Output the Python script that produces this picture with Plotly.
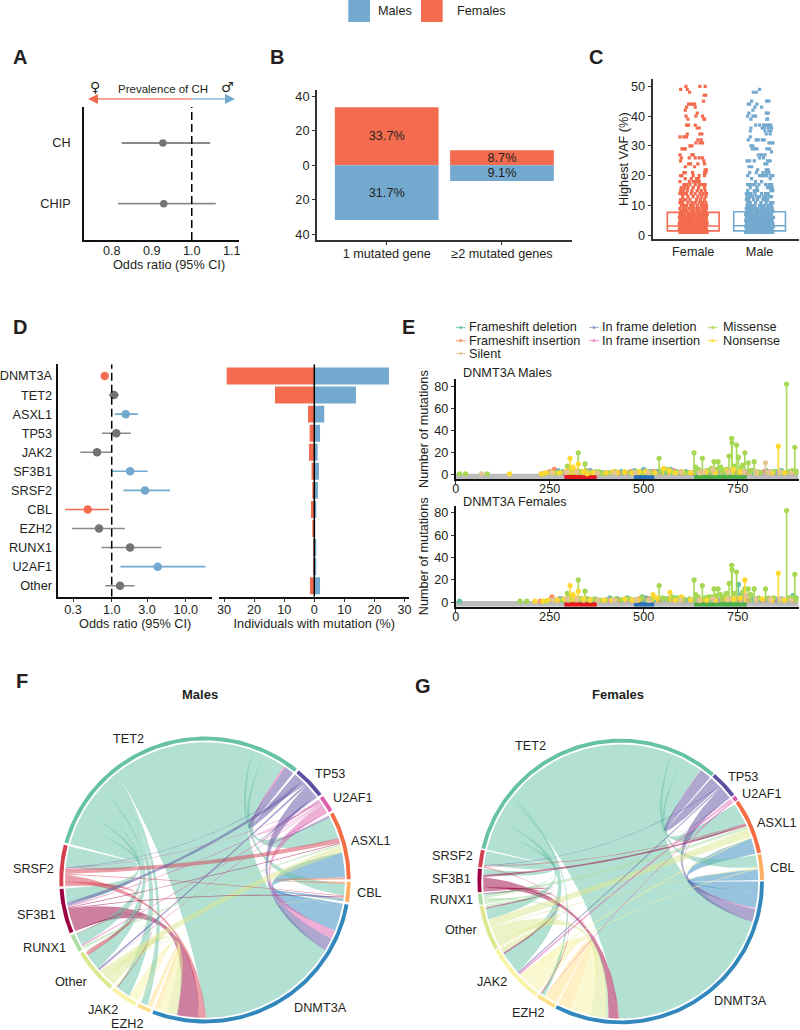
import math
import plotly.graph_objects as go

FONT = "Liberation Sans"
INK = "#231F20"
SALMON = "#F36C4F"
BLUE = "#73A9CF"
GRAY_DOT = "#737373"
GRAY_LINE = "#8A8A8A"
TXT = 12.7

# ---------- Panel A
a_labels = ["CH", "CHIP"]
a_or = [0.928, 0.930]
a_lo = [0.825, 0.816]
a_hi = [1.046, 1.060]

# ---------- Panel B
b_cats = ["1 mutated gene", "\u22652 mutated genes"]
b_female = [33.7, 8.7]
b_male = [31.7, 9.1]

# ---------- Panel C
c_female_vaf = [50, 49, 48, 47, 45, 44, 43, 42, 41, 40, 39, 37, 36, 34, 33, 32, 31, 30, 29, 27, 26, 25, 24, 23, 22, 21, 20,
                19, 18, 17, 16, 15, 14, 13, 12, 11, 10, 9, 8, 7, 6, 5, 4, 3, 2, 1]
c_female_jit = [
    [-.11, .10, .18], [-.19, -.09], [-.055], [.165, .19], [.155], [-.07, -.04, -.01, .02], [-.10, .03], [-.12], [.06],
    [-.11, .04, .14], [.16, -.08, .17], [-.10, -.07, .03], [.06, .09], [-.09, .10, .13], [-.20, -.14, -.10],
    [.07, .12], [.04, .10, .14], [-.05, -.02], [-.17, -.14, -.12], [-.20, -.02, .00], [-.18, -.06, .03, .09, .14],
    [-.19, .16], [-.07, -.04, .07, .17], [-.12, .02], [.18, .20], [-.14, -.12, -.01, .17, .19],
    [-.19, -.17, .00, .09, .17], [-.12, -.03, .05, .08], [-.20, -.06, .00, .02, .05, .09],
    [-.14, -.10, -.05, .03, .09, .12, .14, .16, .18], [-.18, -.13, -.08, .00, .08, .17],
    [-.19, -.15, -.09, -.02, .06, .12, .18], [-.20, -.17, -.13, -.10, -.03, .03, .10, .15, .20],
    [-.16, -.08, .00, .07, .13, .19], [-.19, -.14, -.11, -.05, .05, .11, .17],
    [-.20, -.16, -.08, -.02, .03, .09, .14, .19], [-.18, -.13, -.10, -.04, .00, .06, .12, .16, .20],
    [-.20, -.15, -.11, -.06, -.01, .04, .08, .13, .17, .20], [-.19, -.16, -.12, -.09, -.03, .01, .06, .10, .15, .19],
    [-.20, -.17, -.13, -.08, -.05, -.01, .03, .07, .11, .14, .18, .21],
    [-.21, -.18, -.15, -.11, -.07, -.03, .00, .05, .09, .12, .16, .20],
    [-.20, -.17, -.14, -.10, -.06, -.02, .02, .06, .10, .13, .17, .20, -.04, .15],
    [-.21, -.18, -.15, -.12, -.08, -.05, -.01, .03, .07, .11, .14, .18, .21],
    [-.20, -.17, -.13, -.10, -.07, -.03, .01, .05, .08, .12, .16, .19, -.15, .03],
    [-.21, -.18, -.15, -.11, -.08, -.04, -.01, .03, .06, .10, .13, .17, .20, -.06],
    [-.20, -.17, -.14, -.11, -.07, -.04, .00, .04, .07, .11, .14, .18, .21, .02],
]
c_male_vaf = [49, 48, 45, 44, 43, 42, 41, 40, 39, 37, 36, 35, 34, 33, 32, 31, 30, 29, 28, 27, 26, 25, 24, 23, 22, 21, 20,
              19, 18, 17, 16, 15, 14, 13, 12, 11, 10, 9, 8, 7, 6, 5, 4, 3, 2, 1]
c_male_jit = [
    [.00], [-.05, -.095], [-.12, .105, .14], [-.17, -.15, -.04], [-.07, .03], [-.10], [.10, .13, -.16],
    [-.18, -.10, -.06], [-.13, .11, .12], [-.06, .00, .06, .09, .12, .15, .17], [-.13, .04, .07, .13, .18],
    [.08, .14, .17, -.14], [.10, .16], [-.14], [-.17, -.05, -.02, .04, .07], [.14, .17, .20], [-.13, -.10],
    [-.11, -.07, -.04, .11, .15], [.18], [-.02, .03, .08], [.00, .06], [-.19, -.15, -.08, .12, .16], [.08, .11],
    [-.16, -.12], [.10, .13, -.03], [-.15, -.05, .05, .10, .14], [-.18, .00, .04, .07, .11, .17, .20], [-.12, .16],
    [-.06, .03], [-.18, -.15, -.11, -.07, -.01, .09, .14, .18], [-.14, -.04, .12, .16, .19],
    [-.18, -.08, -.03, .17, .20], [-.20, -.17, -.13, -.07, .03, .09, .13],
    [-.19, -.15, -.11, -.05, .00, .06, .10, .15, .18], [-.20, -.16, -.09, -.03, .05, .08, .12],
    [-.18, -.14, -.06, .02, .10, .16, .20], [-.19, -.15, -.11, -.07, .00, .04, .08, .13, .18],
    [-.20, -.16, -.12, -.08, -.03, .02, .06, .11, .15, .19], [-.19, -.17, -.13, -.10, -.05, .00, .04, .09, .12, .17, .20],
    [-.21, -.18, -.14, -.11, -.06, -.02, .03, .07, .10, .14, .18],
    [-.20, -.16, -.13, -.09, -.05, -.01, .02, .06, .10, .13, .17, .21],
    [-.21, -.18, -.15, -.12, -.08, -.04, .00, .04, .08, .11, .15, .19, -.02],
    [-.20, -.17, -.13, -.10, -.06, -.02, .01, .05, .09, .12, .16, .20, .03],
    [-.21, -.18, -.15, -.11, -.07, -.04, .00, .03, .07, .11, .14, .18, .21, -.13],
    [-.20, -.17, -.14, -.10, -.07, -.03, .01, .04, .08, .12, .15, .19, -.01, .06],
    [-.21, -.18, -.15, -.12, -.08, -.05, -.01, .02, .06, .09, .13, .17, .20, .04],
]
c_box_q1 = [1.5, 1.5]
c_box_med = [3.1, 3.2]
c_box_q3 = [7.7, 7.9]

# ---------- Panel D
d_genes = ["DNMT3A", "TET2", "ASXL1", "TP53", "JAK2", "SF3B1", "SRSF2", "CBL", "EZH2", "RUNX1", "U2AF1", "Other"]
d_or = [0.804, 1.074, 1.546, 1.155, 0.633, 1.77, 2.82, 0.474, 0.674, 1.77, 4.18, 1.295]
d_lo = [0.75, 0.91, 1.10, 0.74, 0.376, 1.01, 1.44, 0.234, 0.29, 0.73, 1.31, 0.82]
d_hi = [0.87, 1.25, 2.25, 1.81, 1.00, 3.06, 6.14, 0.92, 1.51, 4.68, 18.5, 2.04]
d_sig = ["F", "N", "M", "N", "N", "M", "M", "F", "N", "N", "M", "N"]
d_female_pct = [29.1, 13.07, 2.1, 1.55, 1.77, 0.9, 0.5, 1.1, 0.66, 0.25, 0.2, 1.45]
d_male_pct = [24.8, 13.84, 3.3, 1.9, 1.1, 1.55, 1.2, 0.45, 0.15, 0.4, 0.4, 1.9]

# ---------- Panel E
e_types = ["Frameshift deletion", "Frameshift insertion", "In frame deletion", "In frame insertion", "Missense", "Nonsense", "Silent"]
e_colors = ["#66C2A5", "#FC8D62", "#8DA0CB", "#E78AC3", "#A6D854", "#FFD92F", "#E5C494"]
domain_start = [289, 474, 634]
domain_end = [375, 528, 774]
domain_colors = ["#E41A1C", "#2B73B5", "#4DAF4A"]
protein_length = 912

m_fsdel_pos = [246, 264, 272, 285, 336, 358, 372, 392, 412, 440, 458, 476, 492, 500, 516, 534, 556, 572, 594, 612, 642, 668, 700, 716, 744, 772, 790, 815, 826, 838, 852, 866, 890, 905]
m_fsdel_n = [2, 3, 4, 3, 2, 4, 2, 2, 2, 3, 2, 4, 3, 5, 3, 3, 3, 5, 2, 3, 3, 4, 2, 3, 2, 3, 4, 2, 4, 3, 3, 4, 2, 3]
m_fsins_pos = [228, 250, 262, 282, 314, 346, 380, 402, 434, 466, 484, 508, 526, 544, 566, 580, 600, 630, 652, 676, 710, 732, 750, 775, 806, 820, 848, 872, 898]
m_fsins_n = [1, 3, 5, 2, 4, 4, 2, 2, 2, 3, 2, 3, 3, 2, 4, 4, 2, 2, 3, 2, 4, 3, 2, 2, 2, 3, 2, 2, 2]
m_ifdel_pos = [270, 290, 330, 356, 398, 445, 474, 502, 540, 586, 640, 682, 730, 766, 810, 856, 884]
m_ifdel_n = [3, 3, 3, 4, 2, 2, 3, 4, 3, 3, 3, 2, 4, 2, 2, 2, 2]
m_ifins_pos = [288, 342, 408, 456, 520, 578, 622, 696, 760, 822, 878]
m_ifins_n = [2, 2, 2, 2, 2, 4, 2, 3, 2, 2, 2]
m_mis_pos = [10, 26, 84, 235, 252, 268, 280, 297, 301, 306, 318, 326, 333, 344, 352, 362, 372, 382, 392, 410, 425, 447, 463, 480, 496, 510, 522, 541, 548, 562, 575, 590, 606, 618, 634, 638, 645, 656, 662, 672, 680, 687, 693, 698, 705, 712, 720, 727, 734, 735, 741, 747, 752, 758, 763, 769, 778, 785, 794, 802, 812, 832, 846, 868, 880, 886, 895, 902, 908]
m_mis_n = [1, 1, 1, 1, 2, 2, 2, 8, 6, 4, 3, 20, 3, 10, 3, 2, 3, 3, 1, 2, 3, 2, 2, 3, 2, 3, 2, 15, 4, 5, 3, 3, 2, 2, 20, 7, 5, 15, 3, 4, 6, 12, 5, 12, 7, 4, 5, 17, 33, 29, 8, 27, 16, 6, 9, 20, 11, 4, 12, 3, 2, 2, 3, 2, 82, 3, 4, 25, 3]
m_non_pos = [143, 228, 240, 258, 276, 294, 304, 312, 320, 326, 340, 350, 365, 400, 418, 430, 450, 470, 488, 505, 530, 553, 568, 584, 602, 625, 650, 665, 690, 722, 738, 757, 800, 840, 858, 875]
m_non_n = [1, 1, 2, 2, 2, 4, 15, 7, 4, 10, 3, 1, 2, 2, 3, 2, 3, 2, 3, 3, 2, 6, 4, 2, 3, 2, 2, 3, 2, 4, 5, 3, 2, 2, 26, 2]
m_sil_pos = [69, 255, 296, 322, 376, 422, 478, 512, 598, 648, 658, 684, 726, 768, 798, 824, 834, 862, 892]
m_sil_n = [1, 2, 3, 3, 2, 2, 2, 2, 3, 2, 3, 5, 3, 3, 3, 11, 3, 3, 2]

f_fsdel_pos = [10, 254, 276, 286, 300, 338, 362, 380, 410, 430, 455, 478, 496, 506, 516, 530, 548, 582, 596, 612, 628, 646, 676, 716, 745, 752, 760, 788, 810, 830, 850, 866, 890, 897, 905]
f_fsdel_n = [1, 2, 3, 2, 2, 2, 2, 2, 4, 3, 4, 2, 5, 4, 3, 3, 3, 4, 3, 2, 2, 2, 2, 3, 3, 16, 7, 3, 2, 3, 3, 3, 2, 6, 4]
f_fsins_pos = [226, 256, 268, 316, 348, 376, 402, 436, 466, 488, 512, 540, 566, 604, 640, 664, 710, 748, 776, 800, 818, 848, 872, 900]
f_fsins_n = [1, 5, 2, 3, 3, 2, 2, 2, 2, 3, 3, 2, 3, 2, 2, 2, 3, 3, 2, 2, 2, 2, 2, 2]
f_ifdel_pos = [250, 282, 330, 356, 398, 444, 474, 502, 558, 586, 638, 700, 732, 766, 812, 856, 884]
f_ifdel_n = [2, 3, 3, 2, 2, 2, 2, 3, 3, 2, 3, 2, 3, 3, 2, 2, 2]
f_ifins_pos = [272, 342, 408, 456, 520, 578, 622, 696, 760, 822, 878]
f_ifins_n = [2, 2, 2, 2, 2, 2, 2, 2, 2, 2, 2]
f_mis_pos = [171, 189, 240, 262, 282, 297, 301, 306, 318, 326, 333, 344, 352, 370, 385, 400, 425, 440, 462, 476, 495, 510, 522, 541, 550, 562, 575, 590, 606, 622, 634, 638, 645, 656, 662, 672, 680, 687, 693, 698, 705, 712, 720, 727, 734, 735, 741, 747, 763, 769, 778, 785, 794, 805, 824, 832, 846, 868, 880, 886, 895, 902, 908]
f_mis_n = [1, 1, 1, 2, 2, 8, 6, 4, 3, 20, 3, 10, 3, 3, 2, 2, 3, 2, 3, 2, 4, 2, 3, 15, 4, 3, 5, 4, 3, 3, 20, 7, 5, 15, 4, 5, 5, 12, 6, 12, 7, 5, 8, 17, 33, 29, 8, 27, 9, 12, 12, 7, 12, 4, 12, 4, 4, 2, 82, 4, 4, 25, 3]
f_non_pos = [211, 232, 246, 270, 290, 304, 312, 320, 326, 340, 358, 395, 415, 450, 470, 485, 525, 535, 570, 584, 600, 625, 650, 668, 690, 722, 740, 757, 769, 815, 840, 858, 875]
f_non_n = [1, 1, 2, 2, 3, 15, 7, 4, 10, 3, 2, 2, 2, 3, 2, 2, 7, 4, 9, 2, 5, 2, 2, 2, 2, 3, 3, 4, 20, 3, 2, 26, 2]
f_sil_pos = [258, 296, 322, 378, 422, 480, 514, 598, 648, 684, 726, 772, 798, 836, 862, 892]
f_sil_n = [2, 3, 3, 2, 2, 2, 2, 2, 2, 3, 3, 6, 3, 3, 3, 2]

# ---------- Panels F and G (chord diagrams), clockwise sector order
chord_order = ["DNMT3A", "EZH2", "JAK2", "Other", "RUNX1", "SF3B1", "SRSF2", "TET2", "TP53", "U2AF1", "ASXL1", "CBL"]
chord_colors = ["#3288BD", "#FEE08B", "#F7F4A6", "#DDE78F", "#ABDDA4", "#9E0142", "#D53E4F", "#66C2A5", "#5E4FA2", "#DB5FAE", "#F46D43", "#FDAE61"]
male_from = ["TET2"] * 9 + ["TP53", "U2AF1", "DNMT3A", "DNMT3A", "U2AF1", "TP53", "SRSF2", "SF3B1", "RUNX1", "Other", "JAK2", "EZH2",
             "JAK2", "SF3B1", "Other", "Other", "Other", "U2AF1", "TP53", "SRSF2", "SF3B1", "RUNX1", "U2AF1", "RUNX1", "SRSF2",
             "TP53", "U2AF1", "SF3B1", "SF3B1", "SRSF2", "SRSF2", "U2AF1", "TP53", "TP53", "TP53", "U2AF1", "ASXL1"]
male_to = ["DNMT3A", "SRSF2", "SF3B1", "RUNX1", "Other", "JAK2", "EZH2", "ASXL1", "CBL", "TET2", "TET2", "CBL", "ASXL1", "DNMT3A",
           "DNMT3A", "DNMT3A", "DNMT3A", "DNMT3A", "DNMT3A", "DNMT3A", "DNMT3A", "EZH2", "JAK2", "JAK2", "ASXL1", "CBL", "Other",
           "Other", "Other", "Other", "Other", "RUNX1", "ASXL1", "RUNX1", "SF3B1", "SF3B1", "ASXL1", "CBL", "ASXL1", "CBL", "SRSF2",
           "SRSF2", "ASXL1", "U2AF1", "ASXL1", "CBL"]
male_val = [59, 9, 6, 5, 7, 6, 3, 9.5, 5, 4, 0.8, 1.2, 10.5, 3.7, 5.5, 3, 9, 0.3, 4, 3.5, 2,
            0.5, 0.3, 0.7, 3, 0.4, 0.3, 0.8, 1.5, 0.3, 0.4, 0.5, 0.7, 0.3, 1.5, 0.4, 0.4, 0.4, 2, 0.4,
            0.3, 0.3, 0.6, 0.4, 0.4, 0.8]
female_from = ["TET2"] * 9 + ["TP53", "U2AF1", "DNMT3A", "DNMT3A", "TP53", "SF3B1", "SRSF2", "U2AF1", "RUNX1", "Other", "JAK2", "EZH2",
               "JAK2", "Other", "TP53", "SRSF2", "SF3B1", "RUNX1", "Other", "JAK2", "TP53", "TP53", "U2AF1", "U2AF1", "SF3B1", "SF3B1", "SF3B1",
               "SF3B1", "RUNX1", "RUNX1", "Other", "EZH2"]
female_to = ["DNMT3A", "SRSF2", "SF3B1", "RUNX1", "Other", "JAK2", "EZH2", "ASXL1", "CBL", "TET2", "TET2", "CBL", "ASXL1", "DNMT3A", "DNMT3A",
             "DNMT3A", "DNMT3A", "DNMT3A", "DNMT3A", "DNMT3A", "DNMT3A", "CBL", "CBL", "ASXL1", "ASXL1", "ASXL1", "ASXL1", "ASXL1", "ASXL1",
             "JAK2", "SRSF2", "JAK2", "EZH2", "RUNX1", "Other", "JAK2", "EZH2", "Other", "JAK2", "JAK2", "JAK2"]
female_val = [73.5, 6, 2.5, 0.6, 4.5, 9.5, 1.5, 9, 5, 4.8, 0.2, 4.5, 6.7, 5.3, 4.2, 0.4, 0.6, 1, 6.5, 9, 5.5,
              0.6, 0.4, 0.3, 0.4, 0.9, 1.3, 3.5, 0.7, 0.6, 0.3, 0.8, 0.3, 0.3, 0.5, 0.7, 0.4, 1, 0.3, 2, 0.4]

male_labels = [("TET2", 128.7, 738.7), ("TP53", 330, 774.3), ("U2AF1", 353.3, 798), ("ASXL1", 370.7, 841.3), ("CBL", 369.3, 893.3),
               ("DNMT3A", 320, 1008), ("EZH2", 126.7, 1024), ("JAK2", 103.3, 1010), ("Other", 71.7, 981.7), ("RUNX1", 44.3, 948.3),
               ("SF3B1", 36, 915), ("SRSF2", 33.3, 869)]
female_labels = [("TET2", 530.7, 746), ("TP53", 742.7, 777.3), ("U2AF1", 761.7, 794), ("ASXL1", 776.7, 822.7), ("CBL", 782.3, 867.7),
                 ("DNMT3A", 740, 1000.7), ("EZH2", 527.7, 1013.3), ("JAK2", 492.3, 981.7), ("Other", 461.7, 930), ("RUNX1", 451.7, 900),
                 ("SF3B1", 451.7, 879.3), ("SRSF2", 452.7, 856)]

W, H = 800, 1030
layout = dict(
    width=W, height=H, autosize=False, margin=dict(l=0, r=0, t=0, b=0), showlegend=False,
    paper_bgcolor="white", plot_bgcolor="rgba(0,0,0,0)", hovermode=False, barmode="overlay", boxmode="overlay",
    font=dict(family=FONT, size=TXT, color=INK),
)
annotations, shapes, traces = [], [], []


def axes(n, l, r, t, b, xr, yr, xkw=None, ykw=None):
    base = dict(showgrid=False, zeroline=False, showline=True, linecolor="#111111", linewidth=1.6,
                ticks="outside", ticklen=3, tickwidth=1, tickcolor="#333333",
                tickfont=dict(family=FONT, size=TXT, color=INK), automargin=False)
    xa = dict(base, domain=[l / W, r / W], range=xr, anchor=f"y{n}")
    ya = dict(base, domain=[1 - b / H, 1 - t / H], range=yr, anchor=f"x{n}")
    xa.update(xkw or {})
    ya.update(ykw or {})
    layout[f"xaxis{n}"] = xa
    layout[f"yaxis{n}"] = ya
    return dict(xaxis=f"x{n}", yaxis=f"y{n}")


def note(text, x, y, size=TXT, bold=False, anchor="center", family=FONT, color=INK):
    if anchor == "left":
        x -= 2
    annotations.append(dict(text=f"<b>{text}</b>" if bold else text, x=x / W, y=1 - y / H, xref="paper", yref="paper",
                            showarrow=False, xanchor=anchor, yanchor="middle",
                            font=dict(size=size, family=family, color=color)))


# ---- top legend
for x0, x1, col, name, tx in [(348.3, 370, BLUE, "Males", 378), (421, 442.7, SALMON, "Females", 456.7)]:
    shapes.append(dict(type="rect", xref="paper", yref="paper", x0=x0 / W, x1=x1 / W, y0=1 - 22 / H, y1=1,
                       fillcolor=col, line=dict(width=0)))
    note(name, tx, 11, anchor="left")

# ---- panel letters
for letter, x, y in [("A", 20, 57), ("B", 277, 57), ("C", 596, 57), ("D", 20, 327), ("E", 408, 327), ("F", 22, 681), ("G", 423, 686)]:
    note(letter, x, y, size=20, bold=True)

# ---- Panel A
ax = axes(2, 84, 239, 107, 240, [0.7308, 1.118], [-0.598, 1.593],
          dict(tickvals=[0.8, 0.9, 1.0, 1.1], ticktext=["0.8", "0.9", "1.0", "1.1"], ticks="", ticklabelstandoff=-2),
          dict(tickvals=[1, 0], ticktext=a_labels, ticks="", ticklabelstandoff=9))
traces.append(go.Scatter(x=a_or, y=[1, 0], mode="markers", marker=dict(size=7.5, color=GRAY_DOT),
                         error_x=dict(type="data", symmetric=False, array=[h - o for h, o in zip(a_hi, a_or)],
                                      arrayminus=[o - l for l, o in zip(a_lo, a_or)], width=0, thickness=1.8, color=GRAY_LINE), **ax))
traces.append(go.Scatter(x=[1, 1], y=[-0.598, 1.593], mode="lines", line=dict(color="black", width=1.5, dash="8px,4px"), **ax))
note("Odds ratio (95% CI)", 168.5, 264.5)
note("Prevalence of CH", 163, 89, size=11.5)
note("\u2640", 95, 87, size=14, family="DejaVu Sans")
note("\u2642", 227, 87, size=14, family="DejaVu Sans")
shapes.append(dict(type="line", xref="paper", yref="paper", x0=95 / W, x1=191.7 / W, y0=1 - 99 / H, y1=1 - 99 / H,
                   line=dict(color="#F9A593", width=2)))
shapes.append(dict(type="line", xref="paper", yref="paper", x0=191.7 / W, x1=228 / W, y0=1 - 99 / H, y1=1 - 99 / H,
                   line=dict(color="#A9CCE3", width=2)))
for hx, dx, col in [(88, 11, SALMON), (235, -11, BLUE)]:
    annotations.append(dict(text="", x=hx / W, y=1 - 99 / H, xref="paper", yref="paper", ax=dx, ay=0, showarrow=True,
                            arrowhead=2, arrowsize=1, arrowwidth=2, arrowcolor=col))

# ---- Panel B
ax = axes(3, 317, 571.7, 90, 240, [-0.605, 1.605], [-43.3, 43.65],
          dict(tickvals=[0, 1], ticktext=b_cats, linecolor="#333333", linewidth=2, ticklabelstandoff=-2),
          dict(tickvals=[40, 20, 0, -20, -40], ticktext=["40", "20", "0", "20", "40"], linecolor="#333333", linewidth=2))
traces.append(go.Bar(x=[0, 1], y=b_female, width=0.9, marker=dict(color=SALMON, line=dict(width=0)),
                     text=[f"{v}%" for v in b_female], textposition="inside", insidetextanchor="middle", textangle=0,
                     constraintext="none", insidetextfont=dict(size=TXT, color=INK), **ax))
traces.append(go.Bar(x=[0, 1], y=[-v for v in b_male], width=0.9, marker=dict(color=BLUE, line=dict(width=0)),
                     text=[f"{v}%" for v in b_male], textposition="inside", insidetextanchor="middle", textangle=0,
                     constraintext="none", insidetextfont=dict(size=TXT, color=INK), **ax))

# ---- Panel C
ax = axes(4, 652.7, 799, 79, 239.3, [-0.611, 1.594], [-1.34, 52.45],
          dict(tickvals=[0, 1], ticktext=["Female", "Male"], linecolor="#333333", linewidth=2, ticks="", ticklabelstandoff=-1),
          dict(tickvals=[0, 10, 20, 30, 40, 50], linecolor="#333333", linewidth=2,
               title=dict(text="Highest VAF (%)", standoff=0, font=dict(size=TXT, color=INK))))
for i, col in enumerate([SALMON, BLUE]):
    traces.append(go.Box(x=[i], q1=[c_box_q1[i]], median=[c_box_med[i]], q3=[c_box_q3[i]], lowerfence=[c_box_q1[i]], upperfence=[c_box_q3[i]],
                         width=0.78, whiskerwidth=0, boxpoints=False, fillcolor="rgba(255,255,255,0)",
                         line=dict(color=col, width=1.6), **ax))
for i, (vafs, jit, col) in enumerate([(c_female_vaf, c_female_jit, SALMON), (c_male_vaf, c_male_jit, BLUE)]):
    xs, ys = [], []
    for v, row in zip(vafs, jit):
        for j in row:
            xs.append(i + j)
            ys.append(v)
    traces.append(go.Scatter(x=xs, y=ys, mode="markers", marker=dict(symbol="square", size=3.2, color=col, line=dict(width=0)), **ax))

# ---- Panel D left
rows = list(range(len(d_genes)))
ax = axes(5, 58.3, 212, 364.3, 596.7, [-0.7216, 1.355], [11.577, -0.614],
          dict(type="log", tickvals=[0.3, 1, 3, 10], ticktext=["0.3", "1.0", "3.0", "10.0"], ticklabelstandoff=-3,
               title=dict(text="Odds ratio (95% CI)", standoff=1, font=dict(size=TXT, color=INK))),
          dict(tickvals=rows, ticktext=d_genes, ticks="", ticklabelstandoff=2))
sig_col = {"F": (SALMON, SALMON), "M": (BLUE, BLUE), "N": (GRAY_DOT, GRAY_LINE)}
for i in rows:
    dot, line = sig_col[d_sig[i]]
    traces.append(go.Scatter(x=[d_or[i]], y=[i], mode="markers", marker=dict(size=8.5, color=dot),
                             error_x=dict(type="data", symmetric=False, array=[d_hi[i] - d_or[i]], arrayminus=[d_or[i] - d_lo[i]],
                                          width=0, thickness=1.6, color=line), **ax))
traces.append(go.Scatter(x=[1, 1], y=[11.577, -0.614], mode="lines", line=dict(color="black", width=1.5, dash="8px,4px"), **ax))

# ---- Panel D right
ax = axes(6, 219.3, 409.3, 364.3, 596.7, [-31.56, 31.56], [11.577, -0.614],
          dict(tickvals=[-30, -20, -10, 0, 10, 20, 30], ticktext=["30", "20", "10", "0", "10", "20", "30"], ticklabelstandoff=-3,
               title=dict(text="Individuals with mutation (%)", standoff=1, font=dict(size=TXT, color=INK))),
          dict(visible=False))
traces.append(go.Bar(y=rows, x=[-v for v in d_female_pct], orientation="h", width=0.89, marker=dict(color=SALMON, line=dict(width=0)), **ax))
traces.append(go.Bar(y=rows, x=d_male_pct, orientation="h", width=0.89, marker=dict(color=BLUE, line=dict(width=0)), **ax))
traces.append(go.Scatter(x=[0, 0], y=[11.577, -0.614], mode="lines", line=dict(color="black", width=1.5), **ax))


# ---- Panel E
def lollipop(n, top, bottom, zero_top, series, title, title_y):
    ax = axes(n, 455.7, 798.6, top, bottom, [0, protein_length], zero_top,
              dict(tickvals=[0, 250, 500, 750], ticklabelstandoff=-6),
              dict(tickvals=[0, 20, 40, 60, 80],
                   title=dict(text="Number of mutations", standoff=3, font=dict(size=TXT, color=INK))))
    xr, yr = ax["xaxis"], ax["yaxis"]
    shapes.append(dict(type="rect", xref=xr, yref=yr, x0=0, x1=protein_length, y0=zero_top[0], y1=1.2,
                       fillcolor="#BDBDBD", line=dict(width=0), layer="below"))
    for s, e, c in zip(domain_start, domain_end, domain_colors):
        shapes.append(dict(type="rect", xref=xr, yref=yr, x0=s, x1=e, y0=zero_top[0], y1=0.6,
                           fillcolor=c, line=dict(width=0), layer="below"))
    for (pos, n_mut), col in zip(series, e_colors):
        traces.append(go.Scatter(x=pos, y=n_mut, mode="markers", marker=dict(size=5.2, color=col),
                                 error_y=dict(type="data", symmetric=False, array=[0] * len(pos), arrayminus=n_mut,
                                              width=0, thickness=1.6, color=col), **ax))
    note(title, 463.3, title_y, anchor="left")


lollipop(7, 379, 479.3, [-3.9, 86.5],
         [(m_fsdel_pos, m_fsdel_n), (m_fsins_pos, m_fsins_n), (m_ifdel_pos, m_ifdel_n), (m_ifins_pos, m_ifins_n),
          (m_mis_pos, m_mis_n), (m_non_pos, m_non_n), (m_sil_pos, m_sil_n)], "DNMT3A Males", 373)
lollipop(8, 506, 606.7, [-3.9, 86],
         [(f_fsdel_pos, f_fsdel_n), (f_fsins_pos, f_fsins_n), (f_ifdel_pos, f_ifdel_n), (f_ifins_pos, f_ifins_n),
          (f_mis_pos, f_mis_n), (f_non_pos, f_non_n), (f_sil_pos, f_sil_n)], "DNMT3A Females", 502)

# legend of panel E, drawn on a page-sized invisible axis
ax_page = axes(9, 0, W, 0, H, [0, W], [H, 0], dict(visible=False), dict(visible=False))
leg_cols = [(460.7, 468.7), (460.7, 468.7), (594, 602.3), (594, 602.3), (712.7, 723.3), (712.7, 723.3), (460.7, 468.7)]
leg_rows = [327.5, 340.7, 327.5, 340.7, 327.5, 340.7, 353.5]
for name, col, (kx, tx), ky in zip(e_types, e_colors, leg_cols, leg_rows):
    traces.append(go.Scatter(x=[kx - 4.5, kx, kx + 4.5], y=[ky, ky, ky], mode="lines+markers",
                             line=dict(color=col, width=1.2), marker=dict(size=[0, 4.5, 0], color=col), **ax_page))
    note(name, tx, ky, anchor="left")


# ---- Panels F, G
def chord(n, cx, cy, rx, ry, half, start_deg, gap, link_from, link_to, link_val, labels, title, title_x):
    ax = axes(n, cx - half, cx + half, cy - half, cy + half, [-half / rx, half / rx], [-half / ry, half / ry],
              dict(visible=False), dict(visible=False))
    m = len(chord_order)
    idx = {g: i for i, g in enumerate(chord_order)}
    totals = [0.0] * m
    for a, b, v in zip(link_from, link_to, link_val):
        totals[idx[a]] += v
        totals[idx[b]] += v
    scale = (360 - m * gap) / sum(totals)
    starts, cur = [], start_deg
    for t in totals:
        starts.append(cur)
        cur -= t * scale + gap
    ring_out, ring_in, r0 = 1.0, 0.973, 0.96

    def arc(a0, a1, r, steps=None):
        steps = steps or max(3, int(abs(a1 - a0) / 1.5) + 2)
        pts = [a0 + (a1 - a0) * k / (steps - 1) for k in range(steps)]
        return [r * math.cos(math.radians(p)) for p in pts], [r * math.sin(math.radians(p)) for p in pts]

    def edge(t1, t2):
        x1, y1 = r0 * math.cos(math.radians(t1)), r0 * math.sin(math.radians(t1))
        x2, y2 = r0 * math.cos(math.radians(t2)), r0 * math.sin(math.radians(t2))
        delta = abs((t1 - t2 + 180) % 360 - 180)
        half_c = max(math.cos(math.radians(delta / 2)), 1e-6)
        rm = 0.47 * half_c ** (0.5 + 0.5 * (1 - half_c) ** 3)
        rc = 2 * rm - r0 * half_c
        mx, my = x1 + x2, y1 + y2
        norm = math.hypot(mx, my) or 1.0
        cxp, cyp = rc * mx / norm, rc * my / norm
        ts = [k / 40 for k in range(41)]
        return ([(1 - t) ** 2 * x1 + 2 * t * (1 - t) * cxp + t ** 2 * x2 for t in ts],
                [(1 - t) ** 2 * y1 + 2 * t * (1 - t) * cyp + t ** 2 * y2 for t in ts])

    # allocate link ends clockwise inside every sector
    ends = {}
    for i in range(m):
        own = []
        for k, (a, b) in enumerate(zip(link_from, link_to)):
            if idx[a] == i:
                own.append(((i - idx[b]) % m, k))
            elif idx[b] == i:
                own.append(((i - idx[a]) % m, k))
        cur = starts[i]
        for _, k in sorted(own):
            w = link_val[k] * scale
            ends[(i, k)] = (cur, cur - w)
            cur -= w
    order = sorted(range(len(link_val)), key=lambda k: -link_val[k])
    for k in order:
        ia, ib = idx[link_from[k]], idx[link_to[k]]
        a1, a2 = ends[(ia, k)]
        b1, b2 = ends[(ib, k)]
        xs, ys = [], []
        for seg in (arc(a1, a2, r0), edge(a2, b1), arc(b1, b2, r0), edge(b2, a1)):
            xs += seg[0]
            ys += seg[1]
        c = chord_colors[ia].lstrip("#")
        rgb = tuple(int(c[j:j + 2], 16) for j in (0, 2, 4))
        traces.append(go.Scatter(x=xs, y=ys, mode="lines", fill="toself", line=dict(width=0),
                                 fillcolor=f"rgba({rgb[0]},{rgb[1]},{rgb[2]},0.5)", **ax))
    for i in range(m):
        a0, a1 = starts[i], starts[i] - totals[i] * scale
        xo, yo = arc(a0, a1, ring_out)
        xi, yi = arc(a1, a0, ring_in)
        traces.append(go.Scatter(x=xo + xi, y=yo + yi, mode="lines", fill="toself", line=dict(width=0),
                                 fillcolor=chord_colors[i], **ax))
    for name, x, y in labels:
        note(name, x, y)
    note(title, title_x, 694, size=13, bold=True)


chord(10, 205, 880, 145.7, 143.5, 150, -9.9, 1.0, male_from, male_to, male_val, male_labels, "Males", 200)
chord(11, 620.7, 881.5, 143.3, 142.8, 148, 0.0, 0.6, female_from, female_to, female_val, female_labels, "Females", 617.7)

layout["annotations"] = annotations
layout["shapes"] = shapes
fig = go.Figure(data=traces, layout=layout)
fig.write_html("out.html", post_script="document.body.style.margin='0';", config=dict(displayModeBar=False))
